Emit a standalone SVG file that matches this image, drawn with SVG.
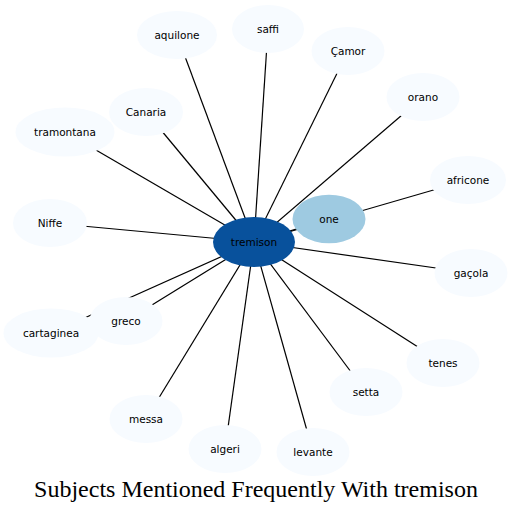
<svg xmlns="http://www.w3.org/2000/svg" width="513" height="513" viewBox="0 0 513 513">
<style>
.e{stroke:#000;stroke-width:1.2;fill:none}
.n{fill:#f7fbff}
.t{font-family:"DejaVu Sans",sans-serif;font-size:10.5px;fill:#000;text-anchor:middle;dominant-baseline:central}
.title{font-family:"Liberation Serif",serif;font-size:24px;fill:#000;text-anchor:middle}
</style>
<rect width="513" height="513" fill="#fff"/>
<g id="edges">
<line class="e" x1="254" y1="242" x2="177" y2="35"/>
<line class="e" x1="254" y1="242" x2="268" y2="29"/>
<line class="e" x1="254" y1="242" x2="348" y2="51"/>
<line class="e" x1="254" y1="242" x2="423" y2="97"/>
<line class="e" x1="254" y1="242" x2="468" y2="180"/>
<line class="e" x1="254" y1="242" x2="329" y2="219"/>
<line class="e" x1="254" y1="242" x2="471" y2="273"/>
<line class="e" x1="254" y1="242" x2="443" y2="363"/>
<line class="e" x1="254" y1="242" x2="366" y2="392"/>
<line class="e" x1="254" y1="242" x2="313" y2="452"/>
<line class="e" x1="254" y1="242" x2="225" y2="449"/>
<line class="e" x1="254" y1="242" x2="146" y2="419"/>
<line class="e" x1="254" y1="242" x2="126" y2="321"/>
<line class="e" x1="254" y1="242" x2="51" y2="333"/>
<line class="e" x1="254" y1="242" x2="50" y2="223"/>
<line class="e" x1="254" y1="242" x2="65" y2="132"/>
<line class="e" x1="254" y1="242" x2="146" y2="112"/>
</g>
<g id="aquilone"><ellipse class="n" cx="177" cy="35" rx="40" ry="24"/><text class="t" x="177" y="35">aquilone</text></g>
<g id="saffi"><ellipse class="n" cx="268" cy="29" rx="36" ry="24"/><text class="t" x="268" y="29">saffi</text></g>
<g id="camor"><ellipse class="n" cx="348" cy="51" rx="36.5" ry="24"/><text class="t" x="348" y="51">Çamor</text></g>
<g id="orano"><ellipse class="n" cx="423" cy="97" rx="36.5" ry="24"/><text class="t" x="423" y="97">orano</text></g>
<g id="africone"><ellipse class="n" cx="468" cy="180" rx="38" ry="24"/><text class="t" x="468" y="180">africone</text></g>
<g id="gacola"><ellipse class="n" cx="471" cy="273" rx="36.5" ry="24"/><text class="t" x="471" y="273">gaçola</text></g>
<g id="tenes"><ellipse class="n" cx="443" cy="363" rx="36.5" ry="24"/><text class="t" x="443" y="363">tenes</text></g>
<g id="setta"><ellipse class="n" cx="366" cy="392" rx="36.5" ry="24"/><text class="t" x="366" y="392">setta</text></g>
<g id="levante"><ellipse class="n" cx="313" cy="452" rx="36.5" ry="24"/><text class="t" x="313" y="452">levante</text></g>
<g id="algeri"><ellipse class="n" cx="225" cy="449" rx="36.5" ry="24"/><text class="t" x="225" y="449">algeri</text></g>
<g id="messa"><ellipse class="n" cx="146" cy="419" rx="36.5" ry="24"/><text class="t" x="146" y="419">messa</text></g>
<g id="cartaginea"><ellipse class="n" cx="51" cy="333" rx="47.5" ry="24.5"/><text class="t" x="51" y="333">cartaginea</text></g>
<g id="greco"><ellipse class="n" cx="126" cy="321" rx="36.5" ry="24"/><text class="t" x="126" y="321">greco</text></g>
<g id="niffe"><ellipse class="n" cx="50" cy="223" rx="37" ry="24"/><text class="t" x="50" y="223">Niffe</text></g>
<g id="tramontana"><ellipse class="n" cx="65" cy="132" rx="49.5" ry="24.5"/><text class="t" x="65" y="132">tramontana</text></g>
<g id="canaria"><ellipse class="n" cx="146" cy="112" rx="37" ry="24"/><text class="t" x="146" y="112">Canaria</text></g>
<g id="one"><ellipse cx="329" cy="219" rx="36.5" ry="24.3" fill="#9ecae1"/><text class="t" x="329" y="219">one</text></g>
<g id="tremison"><ellipse cx="254" cy="242" rx="41" ry="25" fill="#08519c"/><text class="t" x="254" y="242">tremison</text></g>
<text class="title" x="256" y="497">Subjects Mentioned Frequently With tremison</text>
</svg>
